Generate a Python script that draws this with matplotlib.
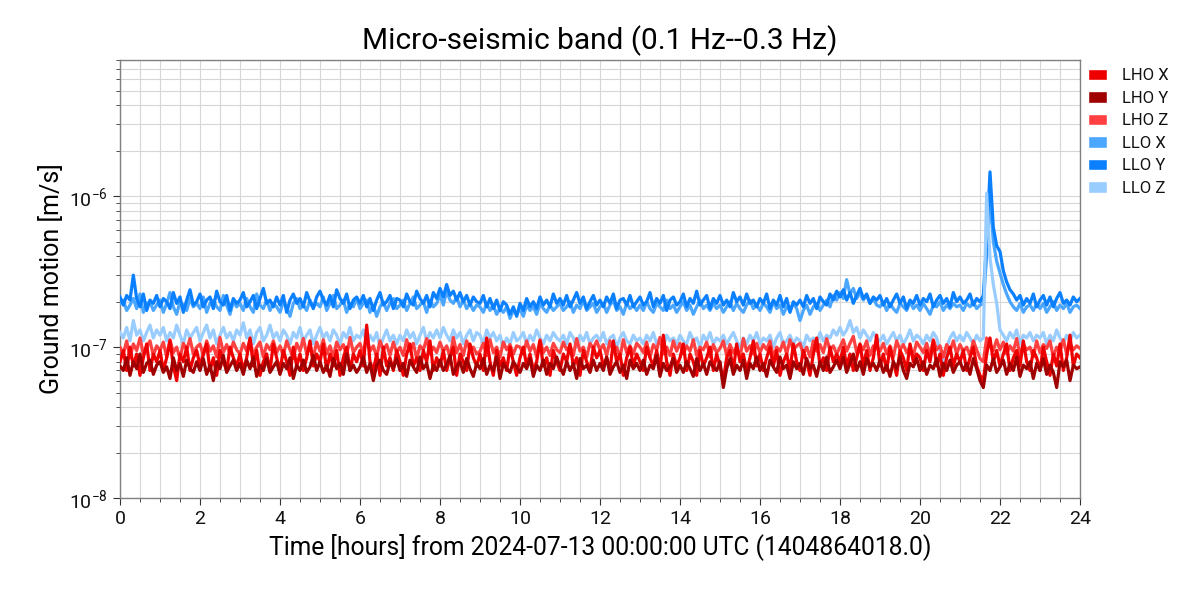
import numpy as np
import matplotlib
matplotlib.use('Agg')
import matplotlib.pyplot as plt
from matplotlib.patches import Patch
from matplotlib.ticker import MultipleLocator, LogLocator

# ground motion in units of 1e-7 m/s, one sample every 5 minutes (12 per row = 1 hour)
lho_x = [
    0.80, 0.95, 0.70, 1.00, 0.75, 0.90, 0.65, 0.85, 1.05, 0.70, 0.90, 0.80,
    0.95, 0.70, 0.85, 1.10, 0.75, 0.60, 0.90, 0.80, 1.00, 0.70, 0.85, 0.95,
    0.75, 0.90, 1.05, 0.70, 0.85, 0.65, 0.95, 0.80, 0.70, 1.00, 0.85, 0.75,
    0.90, 0.70, 0.85, 1.15, 0.75, 0.95, 0.65, 0.80, 0.90, 0.70, 1.05, 0.85,
    0.70, 0.95, 0.80, 0.65, 1.00, 0.75, 0.90, 0.70, 0.85, 1.10, 0.75, 0.90,
    0.80, 1.05, 0.70, 0.90, 0.75, 0.95, 0.65, 0.85, 1.00, 0.70, 0.90, 0.80,
    0.95, 0.75, 1.40, 0.80, 0.70, 0.90, 0.65, 1.00, 0.75, 0.85, 0.70, 0.95,
    0.80, 0.65, 0.90, 1.05, 0.75, 0.85, 0.70, 0.95, 0.80, 1.10, 0.70, 0.85,
    0.75, 0.95, 0.70, 0.85, 1.00, 0.65, 0.90, 0.80, 0.70, 1.05, 0.85, 0.75,
    0.90, 0.70, 1.15, 0.80, 0.65, 0.95, 0.75, 0.85, 0.70, 1.00, 0.80, 0.65,
    0.85, 1.00, 0.75, 0.90, 0.70, 0.80, 1.10, 0.75, 0.85, 0.65, 0.95, 0.80,
    0.70, 0.90, 0.80, 1.05, 0.75, 0.85, 0.65, 0.95, 0.80, 0.70, 1.00, 0.85,
    0.95, 0.75, 0.85, 0.70, 1.10, 0.80, 0.90, 0.65, 0.85, 1.00, 0.75, 0.90,
    0.80, 0.70, 1.00, 0.85, 0.75, 0.95, 0.70, 1.20, 0.80, 0.65, 0.90, 0.75,
    0.85, 1.05, 0.70, 0.90, 0.80, 0.65, 0.95, 0.75, 0.85, 1.00, 0.70, 0.90,
    0.75, 0.60, 0.85, 0.95, 0.70, 1.05, 0.80, 0.90, 0.70, 0.85, 1.10, 0.75,
    0.90, 0.70, 0.85, 1.00, 0.75, 0.95, 0.65, 0.80, 0.90, 0.70, 1.05, 0.80,
    0.70, 0.95, 0.80, 0.65, 0.90, 1.15, 0.75, 0.85, 0.70, 1.00, 0.80, 0.90,
    0.80, 1.00, 0.75, 0.90, 0.70, 0.85, 1.05, 0.75, 0.95, 0.70, 0.85, 1.20,
    0.75, 0.90, 0.70, 1.00, 0.80, 0.65, 0.95, 0.85, 0.70, 1.05, 0.80, 0.90,
    0.85, 0.70, 0.95, 0.80, 1.10, 0.75, 0.90, 0.65, 0.85, 1.00, 0.75, 0.90,
    0.80, 0.95, 0.70, 0.85, 1.00, 0.75, 0.65, 0.60, 0.90, 1.15, 0.80, 0.95,
    0.75, 0.90, 1.05, 0.70, 0.85, 0.95, 0.75, 1.10, 0.80, 0.70, 0.95, 0.85,
    0.70, 1.00, 0.80, 0.65, 0.90, 0.75, 1.05, 0.70, 0.85, 1.20, 0.75, 0.90,
    0.85,
]
lho_y = [
    0.75, 0.70, 0.85, 0.65, 0.80, 0.72, 0.90, 0.68, 0.78, 0.82, 0.66, 0.76,
    0.80, 0.68, 0.74, 0.62, 0.85, 0.70, 0.78, 0.64, 0.82, 0.72, 0.68, 0.80,
    0.70, 0.84, 0.66, 0.76, 0.60, 0.80, 0.72, 0.88, 0.68, 0.75, 0.82, 0.70,
    0.78, 0.66, 0.82, 0.72, 0.86, 0.64, 0.76, 0.70, 0.84, 0.68, 0.74, 0.80,
    0.66, 0.78, 0.72, 0.85, 0.62, 0.76, 0.70, 0.82, 0.68, 0.74, 0.88, 0.70,
    0.80, 0.68, 0.76, 0.64, 0.84, 0.72, 0.78, 0.66, 0.90, 0.70, 0.76, 0.68,
    0.74, 0.86, 0.68, 0.78, 0.60, 0.76, 0.82, 0.70, 0.66, 0.80, 0.72, 0.84,
    0.70, 0.78, 0.64, 0.82, 0.74, 0.68, 0.86, 0.72, 0.78, 0.62, 0.76, 0.70,
    0.82, 0.70, 0.76, 0.88, 0.66, 0.74, 0.80, 0.68, 0.84, 0.72, 0.64, 0.78,
    0.72, 0.84, 0.66, 0.76, 0.70, 0.86, 0.62, 0.78, 0.72, 0.68, 0.80, 0.74,
    0.68, 0.78, 0.72, 0.84, 0.64, 0.76, 0.70, 0.82, 0.66, 0.78, 0.72, 0.86,
    0.74, 0.66, 0.80, 0.70, 0.78, 0.62, 0.84, 0.72, 0.76, 0.68, 0.82, 0.70,
    0.78, 0.70, 0.86, 0.66, 0.74, 0.80, 0.68, 0.76, 0.62, 0.82, 0.72, 0.78,
    0.70, 0.82, 0.66, 0.76, 0.72, 0.88, 0.64, 0.78, 0.70, 0.74, 0.84, 0.68,
    0.76, 0.68, 0.80, 0.72, 0.64, 0.84, 0.70, 0.78, 0.66, 0.80, 0.74, 0.70,
    0.80, 0.54, 0.72, 0.84, 0.66, 0.76, 0.70, 0.82, 0.62, 0.78, 0.72, 0.86,
    0.70, 0.78, 0.64, 0.82, 0.74, 0.68, 0.86, 0.72, 0.76, 0.62, 0.80, 0.72,
    0.78, 0.66, 0.84, 0.72, 0.76, 0.64, 0.80, 0.70, 0.86, 0.68, 0.74, 0.82,
    0.72, 0.86, 0.68, 0.78, 0.90, 0.70, 0.80, 0.66, 0.84, 0.74, 0.78, 0.70,
    0.82, 0.68, 0.76, 0.64, 0.80, 0.72, 0.86, 0.70, 0.62, 0.78, 0.74, 0.84,
    0.70, 0.80, 0.66, 0.76, 0.72, 0.84, 0.64, 0.78, 0.70, 0.82, 0.68, 0.76,
    0.80, 0.70, 0.78, 0.66, 0.84, 0.72, 0.60, 0.54, 0.76, 0.70, 0.84, 0.68,
    0.74, 0.82, 0.66, 0.78, 0.70, 0.86, 0.64, 0.76, 0.72, 0.80, 0.62, 0.78,
    0.70, 0.84, 0.66, 0.76, 0.68, 0.54, 0.80, 0.74, 0.82, 0.60, 0.76, 0.72,
    0.74,
]
lho_z = [
    1.00, 0.90, 1.10, 0.85, 1.05, 0.95, 1.15, 0.90, 1.00, 1.10, 0.88, 1.02,
    0.95, 1.08, 0.86, 1.12, 0.92, 1.00, 0.84, 1.06, 0.96, 1.14, 0.90, 1.00,
    1.05, 0.88, 1.10, 0.94, 1.02, 0.86, 1.16, 0.92, 1.04, 0.90, 1.08, 0.96,
    0.90, 1.06, 0.94, 1.12, 0.88, 1.00, 1.08, 0.86, 1.04, 0.96, 1.10, 0.92,
    1.02, 0.88, 1.10, 0.96, 0.84, 1.06, 0.94, 1.14, 0.90, 1.00, 0.86, 1.08,
    0.94, 1.12, 0.90, 1.02, 0.86, 1.08, 0.96, 1.04, 0.88, 1.16, 0.92, 1.00,
    1.06, 0.90, 1.20, 0.94, 1.02, 0.86, 1.10, 0.96, 1.04, 0.88, 1.08, 0.92,
    1.00, 0.88, 1.12, 0.94, 1.06, 0.84, 1.02, 0.96, 1.14, 0.90, 1.00, 0.92,
    1.08, 0.94, 1.02, 0.86, 1.16, 0.92, 1.04, 0.88, 1.10, 0.96, 1.00, 0.90,
    0.94, 1.06, 0.88, 1.12, 0.92, 1.00, 0.86, 1.08, 0.96, 1.04, 0.90, 1.02,
    1.00, 0.90, 1.10, 0.94, 1.04, 0.86, 1.12, 0.92, 1.00, 0.88, 1.06, 0.96,
    0.92, 1.08, 0.96, 1.02, 0.88, 1.14, 0.94, 1.00, 0.86, 1.06, 0.98, 1.10,
    0.96, 1.04, 0.88, 1.10, 0.94, 1.00, 0.86, 1.12, 0.92, 1.02, 0.90, 1.06,
    1.00, 0.92, 1.08, 0.86, 1.04, 0.96, 1.16, 0.90, 1.00, 0.88, 1.10, 0.94,
    1.06, 0.90, 1.02, 0.94, 1.12, 0.88, 1.00, 0.96, 1.08, 0.86, 1.04, 0.92,
    0.98, 1.10, 0.88, 1.04, 0.92, 1.00, 0.86, 1.14, 0.94, 1.02, 0.90, 1.06,
    0.92, 1.04, 0.96, 1.10, 0.86, 1.00, 0.94, 1.08, 0.90, 1.12, 0.96, 1.02,
    1.06, 0.90, 1.00, 0.86, 1.10, 0.94, 1.04, 0.92, 1.14, 0.96, 1.02, 0.90,
    1.00, 1.12, 0.94, 1.06, 1.18, 0.92, 1.04, 0.96, 1.10, 0.88, 1.02, 0.98,
    0.94, 1.06, 0.90, 1.02, 0.86, 1.10, 0.96, 1.04, 0.92, 1.00, 0.88, 1.08,
    1.00, 0.92, 1.06, 0.88, 1.12, 0.96, 1.02, 0.86, 1.04, 0.94, 1.10, 0.90,
    1.04, 0.94, 1.00, 0.88, 1.10, 0.96, 0.84, 0.80, 1.15, 1.05, 0.95, 1.12,
    0.96, 1.08, 0.90, 1.02, 0.94, 1.14, 0.88, 1.04, 0.96, 1.00, 0.86, 1.10,
    0.92, 1.04, 0.98, 1.10, 0.86, 1.00, 0.94, 1.12, 0.90, 1.06, 0.96, 1.02,
    0.98,
]
llo_x = [
    1.95, 2.05, 1.75, 1.90, 2.10, 1.80, 2.25, 1.70, 1.95, 2.00, 1.75, 1.90,
    2.05, 1.70, 1.95, 2.30, 1.85, 1.65, 2.00, 1.90, 1.75, 2.10, 1.85, 1.95,
    1.80, 2.15, 1.70, 1.95, 2.05, 1.85, 1.75, 2.20, 1.90, 1.65, 2.00, 1.85,
    1.95, 1.75, 2.10, 1.85, 1.70, 2.25, 1.90, 1.80, 2.05, 1.75, 1.95, 1.85,
    1.70, 2.00, 1.85, 1.60, 1.95, 2.10, 1.80, 1.90, 1.75, 2.05, 1.85, 1.95,
    1.85, 2.15, 1.75, 1.95, 2.20, 1.80, 1.90, 2.05, 1.70, 1.95, 1.85, 2.10,
    1.80, 1.95, 2.05, 1.70, 1.90, 1.60, 1.85, 2.00, 1.75, 1.95, 2.10, 1.80,
    1.90, 2.05, 1.75, 1.95, 2.15, 1.80, 1.90, 2.00, 1.70, 2.05, 1.85, 1.95,
    2.20, 1.90, 2.35, 2.05, 1.95, 2.15, 1.85, 2.05, 1.80, 1.95, 1.75, 1.90,
    1.85, 1.70, 1.95, 1.75, 1.90, 1.65, 1.80, 1.70, 1.85, 1.55, 1.75, 1.65,
    1.80, 1.60, 1.90, 1.75, 1.85, 1.65, 1.95, 1.80, 1.70, 1.90, 1.75, 1.85,
    1.95, 1.75, 1.85, 2.00, 1.70, 1.90, 1.80, 2.05, 1.75, 1.85, 1.95, 1.70,
    1.85, 1.95, 1.70, 1.90, 2.05, 1.75, 1.85, 1.65, 1.95, 1.80, 1.90, 1.75,
    1.90, 1.75, 2.00, 1.80, 1.70, 1.95, 1.85, 1.75, 2.05, 1.80, 1.90, 1.70,
    1.85, 2.00, 1.75, 1.90, 1.65, 1.85, 2.05, 1.80, 1.90, 1.75, 1.95, 1.80,
    1.90, 1.70, 1.85, 2.00, 1.75, 1.95, 1.80, 1.70, 1.90, 2.05, 1.80, 1.90,
    1.75, 1.95, 1.85, 1.70, 2.00, 1.80, 1.90, 1.65, 1.85, 1.75, 1.95, 1.80,
    1.50, 1.75, 1.90, 1.65, 1.85, 1.95, 1.75, 1.90, 2.05, 1.85, 2.20, 2.05,
    2.30, 2.10, 2.80, 2.25, 2.45, 2.10, 2.30, 2.05, 2.20, 1.95, 2.10, 1.90,
    1.85, 2.00, 1.75, 1.95, 1.80, 1.70, 1.95, 1.85, 1.75, 2.00, 1.80, 1.90,
    1.75, 1.95, 1.80, 1.65, 1.90, 1.85, 2.00, 1.75, 1.90, 1.80, 1.95, 1.85,
    1.90, 1.75, 1.95, 1.85, 2.00, 1.80, 1.90, 1.95, 4.00, 10.0, 5.00, 3.70,
    3.10, 2.60, 2.25, 2.00, 1.85, 1.75, 1.95, 1.70, 1.85, 1.90, 1.75, 1.95,
    1.80, 1.95, 1.70, 1.85, 2.00, 1.75, 1.90, 1.80, 1.95, 1.70, 1.85, 1.90,
    1.80,
]
llo_y = [
    2.15, 1.90, 2.20, 2.05, 3.00, 2.10, 1.85, 2.25, 1.75, 2.05, 1.95, 2.20,
    1.85, 2.10, 2.00, 1.80, 2.30, 1.95, 2.15, 1.70, 2.05, 2.40, 1.90, 2.00,
    2.25, 1.85, 2.05, 2.15, 1.80, 2.35, 2.00, 1.90, 2.20, 1.75, 2.10, 1.95,
    2.05, 2.30, 1.85, 2.00, 2.20, 1.80, 2.10, 2.45, 1.95, 2.05, 1.85, 2.15,
    1.90, 2.20, 1.70, 2.05, 2.25, 1.95, 2.10, 1.85, 2.30, 2.00, 1.80, 2.15,
    2.35, 2.05, 1.90, 2.20, 1.85, 2.40, 2.10, 1.95, 2.25, 1.80, 2.05, 2.15,
    1.95, 2.20, 1.85, 2.10, 1.75, 2.05, 2.30, 1.90, 2.00, 2.20, 1.80, 2.10,
    2.05, 1.85, 2.25, 2.00, 1.90, 2.35, 2.10, 1.95, 2.20, 1.85, 2.30, 2.10,
    2.45, 2.15, 2.60, 2.20, 2.35, 2.05, 2.30, 2.00, 2.20, 1.90, 2.15, 2.00,
    1.95, 2.20, 1.85, 2.10, 1.80, 2.05, 1.75, 2.00, 1.90, 1.65, 1.85, 1.60,
    1.95, 1.75, 2.10, 1.85, 2.00, 1.80, 2.15, 1.90, 2.05, 1.85, 2.25, 1.95,
    2.10, 1.90, 2.20, 1.85, 2.05, 2.30, 1.95, 2.15, 1.80, 2.00, 2.20, 1.90,
    2.05, 1.85, 2.15, 1.95, 2.25, 1.80, 2.05, 2.10, 1.90, 2.20, 1.85, 2.00,
    2.15, 1.90, 2.00, 2.30, 1.85, 2.10, 1.95, 2.20, 1.75, 2.05, 2.15, 1.90,
    2.00, 2.25, 1.85, 2.10, 1.95, 2.35, 1.90, 2.05, 2.20, 1.80, 2.10, 1.95,
    2.20, 1.90, 2.05, 1.85, 2.30, 2.00, 2.15, 1.90, 2.25, 1.95, 2.05, 1.85,
    2.10, 1.95, 2.25, 1.80, 2.05, 1.90, 2.20, 1.85, 2.10, 1.70, 2.00, 1.90,
    2.05, 1.85, 2.20, 1.95, 2.10, 1.80, 2.15, 2.00, 1.90, 2.25, 2.05, 2.35,
    2.15, 2.40, 2.05, 2.30, 1.95, 2.20, 2.45, 2.10, 2.25, 1.95, 2.15, 2.05,
    2.20, 1.90, 2.10, 1.85, 2.05, 2.25, 1.95, 2.15, 1.80, 2.05, 1.95, 2.20,
    1.90, 2.10, 2.00, 2.25, 1.85, 2.05, 2.20, 1.95, 2.10, 1.85, 2.30, 2.00,
    2.15, 1.95, 2.05, 2.25, 1.90, 2.10, 2.00, 2.20, 5.00, 14.5, 6.20, 4.70,
    4.30, 3.20, 2.70, 2.40, 2.25, 2.05, 2.20, 1.90, 2.10, 1.95, 2.25, 1.85,
    2.05, 2.20, 1.90, 2.15, 1.85, 2.10, 2.30, 1.95, 2.05, 1.90, 2.15, 2.00,
    2.10,
]
llo_z = [
    1.25, 1.15, 1.35, 1.10, 1.50, 1.20, 1.30, 1.10, 1.25, 1.40, 1.15, 1.30,
    1.20, 1.35, 1.10, 1.25, 1.15, 1.40, 1.20, 1.05, 1.30, 1.15, 1.25, 1.35,
    1.10, 1.25, 1.40, 1.15, 1.30, 1.05, 1.20, 1.35, 1.15, 1.25, 1.10, 1.30,
    1.20, 1.45, 1.15, 1.30, 1.05, 1.25, 1.35, 1.10, 1.20, 1.40, 1.15, 1.25,
    1.10, 1.30, 1.20, 1.05, 1.25, 1.15, 1.35, 1.10, 1.20, 1.30, 1.05, 1.20,
    1.35, 1.15, 1.25, 1.10, 1.30, 1.20, 1.05, 1.25, 1.15, 1.35, 1.10, 1.20,
    1.15, 1.30, 1.05, 1.20, 1.10, 1.25, 1.00, 1.15, 1.30, 1.10, 1.20, 1.05,
    1.20, 1.10, 1.30, 1.15, 1.25, 1.05, 1.20, 1.35, 1.10, 1.25, 1.15, 1.30,
    1.15, 1.35, 1.20, 1.10, 1.30, 1.15, 1.25, 1.05, 1.20, 1.30, 1.10, 1.25,
    1.20, 1.05, 1.30, 1.15, 1.25, 1.10, 1.20, 1.00, 1.15, 1.05, 1.25, 1.10,
    1.15, 1.25, 1.05, 1.20, 1.10, 1.30, 1.15, 1.05, 1.20, 1.10, 1.25, 1.15,
    1.10, 1.20, 1.05, 1.25, 1.15, 1.00, 1.20, 1.10, 1.25, 1.05, 1.15, 1.20,
    1.10, 1.25, 1.05, 1.15, 1.20, 1.00, 1.15, 1.25, 1.10, 1.05, 1.20, 1.10,
    1.15, 1.05, 1.20, 1.10, 1.25, 1.05, 1.15, 1.00, 1.20, 1.10, 1.15, 1.05,
    1.20, 1.10, 1.05, 1.25, 1.10, 1.15, 1.00, 1.20, 1.10, 1.25, 1.05, 1.15,
    1.10, 1.20, 1.05, 1.15, 1.25, 1.10, 1.00, 1.15, 1.05, 1.20, 1.10, 1.25,
    1.05, 1.15, 1.10, 1.20, 1.00, 1.15, 1.25, 1.05, 1.10, 1.20, 1.05, 1.15,
    1.10, 1.00, 1.20, 1.10, 1.15, 1.05, 1.25, 1.10, 1.20, 1.15, 1.30, 1.20,
    1.35, 1.20, 1.30, 1.50, 1.25, 1.35, 1.15, 1.30, 1.20, 1.10, 1.25, 1.15,
    1.10, 1.20, 1.05, 1.15, 1.25, 1.10, 1.20, 1.05, 1.15, 1.30, 1.10, 1.20,
    1.15, 1.05, 1.20, 1.10, 1.25, 1.15, 0.95, 0.80, 1.00, 1.15, 1.25, 1.10,
    1.20, 1.10, 1.25, 1.15, 1.05, 1.20, 1.10, 1.15, 10.5, 3.90, 2.60, 1.95,
    1.30, 1.20, 1.10, 1.25, 1.15, 1.30, 1.05, 1.20, 1.15, 1.25, 1.10, 1.20,
    1.15, 1.25, 1.05, 1.20, 1.10, 1.30, 1.15, 1.05, 1.20, 1.10, 1.25, 1.15,
    1.20,
]

labels = ['LHO X', 'LHO Y', 'LHO Z', 'LLO X', 'LLO Y', 'LLO Z']
colors = ['#ee0000', '#a00000', '#ff4040', '#4ba6ff', '#0a80ff', '#99ccff']
series = [lho_x, lho_y, lho_z, llo_x, llo_y, llo_z]
draw_order = [3, 4, 5, 2, 0, 1]

plt.rcParams['font.family'] = ['Roboto', 'DejaVu Sans']
plt.rcParams['mathtext.fontset'] = 'custom'
plt.rcParams['mathtext.rm'] = 'Roboto'
plt.rcParams['mathtext.it'] = 'Roboto:italic'

fig = plt.figure(figsize=(12, 6), dpi=100)
ax = fig.add_axes([0.1, 0.17, 0.8, 0.73])

for k, i in enumerate(draw_order):
    v = np.array(series[i]) * 1e-7
    t = np.arange(len(v)) / 12.0  # hours
    ax.plot(t, v, color=colors[i], linewidth=2.3, zorder=3 + k * 0.1)

ax.set_yscale('log')
ax.set_xlim(0, 24)
ax.set_ylim(1e-8, 8e-6)
ax.xaxis.set_major_locator(MultipleLocator(2))
ax.xaxis.set_minor_locator(MultipleLocator(0.5))
ax.yaxis.set_minor_locator(LogLocator(base=10, subs=np.arange(2, 10)))

ax.grid(True, which='both', color='#d6d6d6', linewidth=0.8, zorder=0)
ax.set_axisbelow(True)
for s in ax.spines.values():
    s.set_color('#808080')
    s.set_linewidth(1.0)
ax.tick_params(which='both', direction='out', color='#333333', top=False, right=False)
ax.tick_params(which='both', labelcolor='#111111', labelsize=14)
ax.tick_params(which='major', length=5)
ax.tick_params(which='minor', length=3)

ax.set_title('Micro-seismic band (0.1 Hz--0.3 Hz)', fontsize=21.5, pad=8)
ax.set_xlabel('Time [hours] from 2024-07-13 00:00:00 UTC (1404864018.0)', fontsize=17.7)
ax.set_ylabel('Ground motion [m/s]', fontsize=18)

handles = [Patch(facecolor=c, edgecolor='white', label=l) for c, l in zip(colors, labels)]
ax.legend(handles=handles, loc='upper left', bbox_to_anchor=(1.0, 1.0), frameon=False,
          fontsize=12, handlelength=1.1, handleheight=0.7, labelspacing=0.45,
          handletextpad=0.9, borderaxespad=0.1, labelcolor='#111111')

fig.savefig('out.png', dpi=100)
